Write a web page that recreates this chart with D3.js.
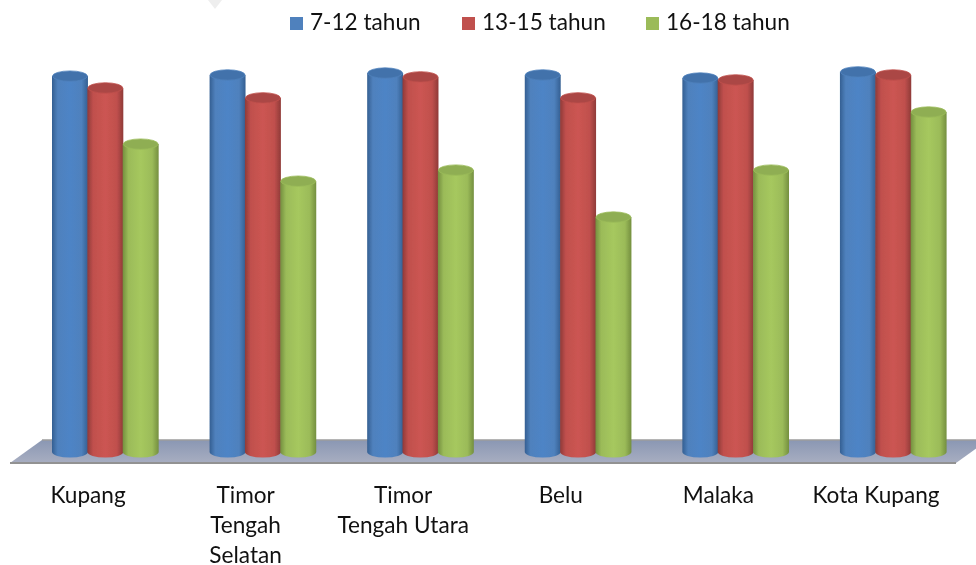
<!DOCTYPE html>
<html><head><meta charset="utf-8">
<script src="https://cdn.jsdelivr.net/npm/d3@7/dist/d3.min.js"></script>
<style>html,body{margin:0;padding:0;background:#fff}svg{display:block}text{font-family:Lato,"Open Sans",sans-serif;fill:#111}</style>
</head><body><div id="c"></div>
<script>
const categories=["Kupang","Timor Tengah Selatan","Timor Tengah Utara","Belu","Malaka","Kota Kupang"];
const categoryLines=[["Kupang"],["Timor","Tengah","Selatan"],["Timor","Tengah Utara"],["Belu"],["Malaka"],["Kota Kupang"]];
const seriesNames=["7-12 tahun","13-15 tahun","16-18 tahun"];
const age7to12=[98.4,98.7,99.2,98.7,97.9,99.5];
const age13to15=[95.3,92.7,98.2,92.7,97.4,98.7];
const age16to18=[80.6,70.9,73.8,61.5,73.8,89.0];
const seriesValues=[age7to12,age13to15,age16to18];
const palette=[
 {key:"#4f81bd",edge:"#345f92",mid:"#4e84c6",top:"#4272ab",rim:"#4f81bd"},
 {key:"#c0504d",edge:"#8f3a38",mid:"#cc5552",top:"#ab4744",rim:"#c0504d"},
 {key:"#9bbb59",edge:"#748f3f",mid:"#a6c85e",top:"#8fae52",rim:"#9bbb59"}];
const W=976,H=565;
const svg=d3.select("#c").append("svg").attr("width",W).attr("height",H);
const defs=svg.append("defs");
palette.forEach((p,i)=>{
  const g=defs.append("linearGradient").attr("id","cyl"+i).attr("x1",0).attr("x2",1).attr("y1",0).attr("y2",0);
  [[0,p.edge],[.16,p.key],[.5,p.mid],[.82,p.key],[1,p.edge]].forEach(s=>g.append("stop").attr("offset",s[0]).attr("stop-color",s[1]));
});
const fg=defs.append("linearGradient").attr("id","floor").attr("x1",0).attr("x2",0).attr("y1",0).attr("y2",1);
fg.append("stop").attr("offset",0).attr("stop-color","#8a97b3");
fg.append("stop").attr("offset",1).attr("stop-color","#a8aec1");
defs.append("filter").attr("id","soft").append("feGaussianBlur").attr("stdDeviation",.7);

const x0=d3.scaleBand().domain(categories).range([52,946]).paddingInner(.327).paddingOuter(0);
const x1=d3.scaleBand().domain(d3.range(3)).range([0,x0.bandwidth()]);
const y=d3.scaleLinear().domain([0,100]).range([452,70]);
const ry=5.5;

svg.append("path").attr("d","M208,0L222,0L215,9Z").attr("fill","#eeeeee");

const art=svg.append("g").attr("filter","url(#soft)");
const fy0=y(0)-12,fy1=y(0)+11;
art.append("path").attr("d",`M42,${fy0}L${W+12},${fy0}L956,${fy1}L10,${fy1}Z`).attr("fill","url(#floor)");
art.append("path").attr("d",`M42,${fy0}L${W+12},${fy0}`).attr("stroke","#9c9c9c").attr("stroke-width",1.5).attr("fill","none");
art.append("path").attr("d",`M956,${fy1}L10,${fy1}`).attr("stroke","#929292").attr("stroke-width",2).attr("fill","none");

categories.forEach((c,ci)=>{
  const g=art.append("g").attr("transform",`translate(${x0(c)},0)`);
  seriesValues.forEach((vals,si)=>{
    const v=vals[ci],bx=x1(si),w=x1.bandwidth()+.6,rx=w/2,cx=bx+rx,yt=y(v),yb=y(0);
    g.append("path").attr("fill",`url(#cyl${si})`)
      .attr("d",`M${bx},${yt}L${bx},${yb}A${rx},${ry} 0 0 0 ${bx+w},${yb}L${bx+w},${yt}Z`);
    g.append("ellipse").attr("cx",cx).attr("cy",yt).attr("rx",rx-.5).attr("ry",ry-.3)
      .attr("fill",palette[si].top).attr("stroke",palette[si].rim).attr("stroke-width",.8);
  });
});

categories.forEach((c,ci)=>{
  const cx=x0(c)+x0.bandwidth()/2-17;
  const t=svg.append("text").attr("text-anchor","middle").attr("font-size",22.6).attr("x",cx).attr("y",503);
  categoryLines[ci].forEach((l,i)=>t.append("tspan").attr("x",cx).attr("dy",i?30:0).text(l));
});

const legendX=d3.scaleOrdinal().domain(seriesNames).range([290,462,646]);
seriesNames.forEach((n,i)=>{
  const lx=legendX(n);
  svg.append("rect").attr("x",lx).attr("y",17).attr("width",13).attr("height",13).attr("fill",palette[i].key);
  svg.append("text").attr("x",lx+20).attr("y",30).attr("font-size",22.6).text(n);
});
</script></body></html>
